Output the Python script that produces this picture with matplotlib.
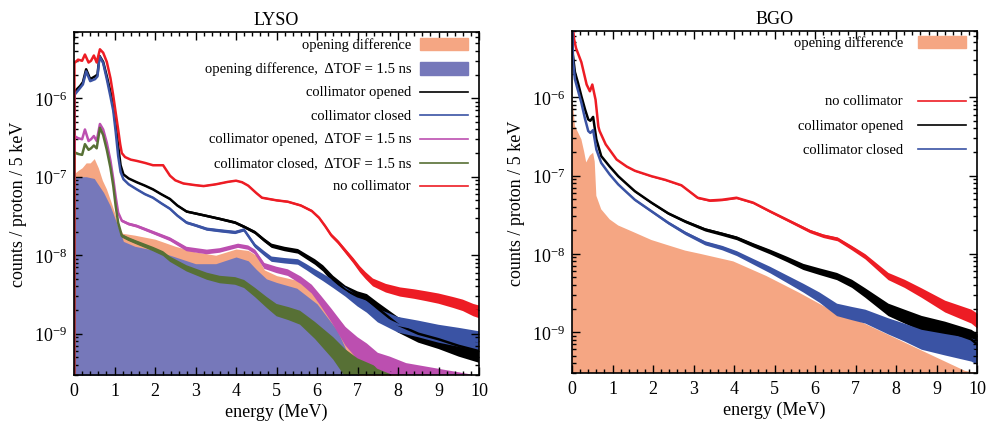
import matplotlib

matplotlib.use("Agg")

import matplotlib.pyplot as plt  # noqa: E402
import numpy as np  # noqa: E402
from matplotlib.ticker import LogLocator, MultipleLocator, NullFormatter  # noqa: E402

SALMON, PURPLE, BLACK, BLUE, MAGENTA, GREEN, RED = (
    "#f5a683", "#7678ba", "#000000", "#3a53a4", "#bc4fb0", "#577035", "#ed1c24",
)
FLOOR = 1e-12

# ---- LYSO (energies in MeV, counts / proton / 5 keV) ----
lyso_none_e = [0, 0.01, 0.1, 0.2, 0.27, 0.36, 0.42, 0.49, 0.56, 0.64, 0.72, 0.81, 0.9, 0.97,
               1.03, 1.09, 1.14, 1.18, 1.26, 1.4, 1.55, 1.75, 1.95, 2.2, 2.37, 2.5, 2.7, 3.0,
               3.2, 3.5, 3.8, 4.0, 4.15, 4.3, 4.5, 4.64, 5.0, 5.28, 5.6, 5.87, 6.05, 6.2, 6.35,
               6.52, 6.69, 6.9, 7.06, 7.2, 7.38, 7.7, 8.05, 8.4, 8.7, 9.0, 9.36, 9.6, 9.86, 10.0]
lyso_none = [FLOOR, 2.8e-6, 3.1e-6, 3.0e-6, 3.6e-6, 2.85e-6, 3.0e-6, 3.5e-6, 2.85e-6, 4.2e-6,
             3.8e-6, 2.9e-6, 1.8e-6, 1.07e-6, 6.5e-7, 4.0e-7, 2.6e-7, 2.0e-7, 1.78e-7, 1.65e-7,
             1.59e-7, 1.5e-7, 1.4e-7, 1.4e-7, 1.03e-7, 9.0e-8, 8.2e-8, 7.8e-8, 7.6e-8, 8.0e-8,
             8.6e-8, 8.9e-8, 8.5e-8, 7.7e-8, 6.2e-8, 5.4e-8, 5.0e-8, 4.8e-8, 4.3e-8, 3.66e-8,
             3.0e-8, 2.35e-8, 1.8e-8, 1.47e-8, 1.15e-8, 8.5e-9, 6.6e-9, 5.5e-9, 4.5e-9, 3.8e-9,
             3.4e-9, 3.2e-9, 3.0e-9, 2.8e-9, 2.5e-9, 2.3e-9, 2.0e-9, 1.9e-9]

lyso_e = [0, 0.01, 0.07, 0.15, 0.22, 0.3, 0.4, 0.52, 0.58, 0.63, 0.72, 0.81, 0.9, 0.97, 1.03,
          1.09, 1.15, 1.22, 1.35, 1.55, 1.75, 1.95, 2.15, 2.37, 2.55, 2.78, 3.0, 3.28, 3.6,
          3.98, 4.2, 4.47, 4.7, 4.88, 5.2, 5.53, 5.75, 5.95, 6.15, 6.4, 6.7, 7.0, 7.23, 7.5,
          8.0, 8.5, 9.0, 9.5, 10.0]
lyso_open = [FLOOR, 1.2e-6, 1.3e-6, 1.43e-6, 1.6e-6, 2.34e-6, 1.75e-6, 1.9e-6, 2.0e-6, 3.46e-6,
             2.9e-6, 1.9e-6, 1.2e-6, 8.0e-7, 4.5e-7, 2.46e-7, 1.4e-7, 1.07e-7, 9.5e-8, 8.5e-8,
             7.7e-8, 6.9e-8, 6.0e-8, 5.2e-8, 4.3e-8, 3.6e-8, 3.4e-8, 3.16e-8, 2.9e-8, 2.6e-8,
             2.3e-8, 1.95e-8, 1.55e-8, 1.32e-8, 1.2e-8, 1.12e-8, 9.5e-9, 8.2e-9, 6.8e-9, 4.9e-9,
             3.6e-9, 3.0e-9, 2.75e-9, 2.1e-9, 1.3e-9, 1.0e-9, 8.5e-10, 7e-10, 6e-10]
lyso_closed = [FLOOR, 1.1e-6, 1.2e-6, 1.35e-6, 1.5e-6, 2.2e-6, 1.65e-6, 1.75e-6, 1.9e-6, 3.4e-6,
               2.8e-6, 1.75e-6, 1.05e-6, 6.9e-7, 3.7e-7, 1.84e-7, 1.15e-7, 9.3e-8, 8.0e-8,
               6.9e-8, 6.0e-8, 5.4e-8, 4.6e-8, 3.9e-8, 3.2e-8, 2.6e-8, 2.4e-8, 2.15e-8, 2.05e-8,
               1.95e-8, 2.1e-8, 1.32e-8, 1.05e-8, 8.9e-9, 8.5e-9, 8.2e-9, 7.0e-9, 6.0e-9, 5.2e-9,
               4.3e-9, 3.4e-9, 2.6e-9, 2.2e-9, 1.7e-9, 1.3e-9, 1.15e-9, 1.0e-9, 9e-10, 8e-10]

lyso_open_tof_e = [0, 0.01, 0.1, 0.2, 0.27, 0.36, 0.42, 0.49, 0.56, 0.64, 0.72, 0.81, 0.9, 0.97,
                   1.03, 1.09, 1.18, 1.35, 1.55, 1.95, 2.37, 2.78, 3.28, 3.6, 4.05, 4.3, 4.47,
                   4.7, 5.0, 5.28, 5.6, 5.87, 6.1, 6.36, 6.7, 7.0, 7.23, 7.5, 7.8, 8.2, 9.0, 10.0]
lyso_open_tof = [FLOOR, 3.3e-7, 3.1e-7, 3.0e-7, 4.0e-7, 2.85e-7, 3.0e-7, 3.3e-7, 2.85e-7, 4.7e-7,
                 4.0e-7, 2.7e-7, 1.6e-7, 9.3e-8, 5.5e-8, 3.5e-8, 2.75e-8, 2.5e-8, 2.35e-8,
                 1.95e-8, 1.6e-8, 1.2e-8, 1.1e-8, 1.15e-8, 1.32e-8, 1.25e-8, 1.1e-8, 7.3e-9,
                 6.5e-9, 6.0e-9, 4.8e-9, 3.7e-9, 2.6e-9, 1.7e-9, 9.3e-10, 6.5e-10, 5.2e-10,
                 3.7e-10, 3.2e-10, 2.5e-10, 2e-10, 1.5e-10]

lyso_closed_tof_e = [0, 0.01, 0.1, 0.2, 0.27, 0.36, 0.42, 0.49, 0.56, 0.64, 0.72, 0.81, 0.9,
                     0.97, 1.03, 1.09, 1.18, 1.35, 1.55, 1.95, 2.2, 2.37, 2.78, 3.28, 3.6, 3.98,
                     4.2, 4.47, 4.76, 5.0, 5.3, 5.58, 5.95, 6.4, 6.7, 7.0, 8.0, 10.0]
lyso_closed_tof = [FLOOR, 2.05e-7, 1.95e-7, 1.9e-7, 2.6e-7, 2.2e-7, 2.3e-7, 2.5e-7, 2.3e-7,
                   4.2e-7, 3.4e-7, 2.2e-7, 1.3e-7, 7.6e-8, 4.2e-8, 2.6e-8, 1.77e-8, 1.6e-8,
                   1.45e-8, 1.2e-8, 1.05e-8, 8.9e-9, 6.8e-9, 5.4e-9, 4.9e-9, 4.7e-9, 4.3e-9,
                   3.35e-9, 2.5e-9, 2.0e-9, 1.8e-9, 1.6e-9, 1.1e-9, 6.5e-10, 4.2e-10, 3.0e-10,
                   1.5e-10, 1e-10]

lyso_diff_e = [0, 0.01, 0.1, 0.2, 0.3, 0.4, 0.5, 0.6, 0.7, 0.8, 0.9, 1.0, 1.1, 1.2, 1.5, 2.0,
               2.5, 3.0, 3.5, 4.0, 4.3, 4.5, 4.7, 5.0, 5.5, 6.0, 6.5, 7.0, 7.5, 8.0, 8.5]
lyso_diff = [FLOOR, 1.1e-7, 1.2e-7, 1.3e-7, 1.5e-7, 1.5e-7, 1.7e-7, 1.3e-7, 9e-8, 7e-8, 5e-8,
             3.5e-8, 2.3e-8, 1.9e-8, 1.8e-8, 1.6e-8, 1.3e-8, 1.1e-8, 1.0e-8, 1.2e-8, 1.15e-8,
             1.0e-8, 6.5e-9, 5.5e-9, 4.8e-9, 3.0e-9, 1.6e-9, 8e-10, 4.5e-10, 3e-10, 2e-10]

lyso_diff_tof_e = [0, 0.01, 0.3, 0.5, 0.56, 0.73, 0.89, 1.05, 1.22, 1.5, 2.0, 2.5, 3.0, 3.5,
                   4.0, 4.3, 4.5, 4.75, 5.0, 5.5, 6.0, 6.5, 6.8, 7.0, 7.3]
lyso_diff_tof = [FLOOR, 1.0e-7, 1.0e-7, 9.5e-8, 8.5e-8, 6.3e-8, 4.3e-8, 2.6e-8, 1.5e-8, 1.3e-8,
                 1.15e-8, 9.5e-9, 7.8e-9, 7.8e-9, 9.5e-9, 8.5e-9, 6.6e-9, 5.0e-9, 4.5e-9,
                 3.8e-9, 2.4e-9, 1.1e-9, 5e-10, 3e-10, 1.5e-10]

# ---- BGO ----
bgo_none_e = [0, 0.02, 0.05, 0.1, 0.23, 0.36, 0.44, 0.5, 0.58, 0.65, 0.68, 0.83, 1.1, 1.35,
              1.55, 1.96, 2.3, 2.7, 3.1, 3.4, 3.7, 4.06, 4.47, 4.88, 5.29, 5.87, 6.2, 6.55,
              6.9, 7.23, 7.8, 8.2, 8.62, 9.2, 9.85, 10.0]
bgo_none = [2e-5, 8e-6, 5.5e-6, 4.2e-6, 2.8e-6, 1.45e-6, 1.19e-6, 1.45e-6, 9.3e-7, 4.2e-7,
            3.7e-7, 2.5e-7, 1.6e-7, 1.3e-7, 1.15e-7, 9.8e-8, 8.8e-8, 7.5e-8, 5.2e-8, 4.8e-8,
            4.9e-8, 5.2e-8, 4.5e-8, 3.5e-8, 2.75e-8, 1.95e-8, 1.7e-8, 1.55e-8, 1.2e-8, 9.3e-9,
            5.2e-9, 4.2e-9, 3.2e-9, 2.15e-9, 1.6e-9, 1.4e-9]

bgo_e = [0, 0.02, 0.07, 0.15, 0.23, 0.32, 0.4, 0.45, 0.52, 0.6, 0.72, 0.93, 1.14, 1.35, 1.55,
         1.96, 2.37, 2.79, 3.28, 3.7, 4.06, 4.47, 4.88, 5.3, 5.7, 6.1, 6.53, 6.9, 7.23, 7.8,
         8.2, 8.62, 9.2, 9.85, 10.0]
bgo_open = [1e-5, 3.5e-6, 2.1e-6, 1.5e-6, 1.03e-6, 7e-7, 5.2e-7, 5.0e-7, 5.6e-7, 2.9e-7,
            1.77e-7, 1.3e-7, 9.8e-8, 7.8e-8, 6.3e-8, 4.5e-8, 3.3e-8, 2.6e-8, 2.05e-8, 1.8e-8,
            1.6e-8, 1.3e-8, 1.07e-8, 8.6e-9, 6.9e-9, 6.0e-9, 5.2e-9, 4.2e-9, 3.2e-9, 1.95e-9,
            1.6e-9, 1.3e-9, 1.07e-9, 8.1e-10, 7e-10]
bgo_closed = [1e-5, 3.0e-6, 1.7e-6, 1.2e-6, 8.5e-7, 5.3e-7, 3.7e-7, 3.5e-7, 3.8e-7, 2.15e-7,
              1.45e-7, 1.03e-7, 7.7e-8, 6.1e-8, 4.9e-8, 3.5e-8, 2.5e-8, 1.85e-8, 1.38e-8,
              1.2e-8, 1.02e-8, 8.0e-9, 6.3e-9, 4.8e-9, 3.7e-9, 2.8e-9, 1.95e-9, 1.75e-9, 1.6e-9,
              1.2e-9, 1.0e-9, 8.1e-10, 7e-10, 6e-10, 5.5e-10]

bgo_diff_e = [0, 0.01, 0.07, 0.23, 0.3, 0.35, 0.44, 0.52, 0.56, 0.6, 0.72, 0.93, 1.14, 1.51,
              1.96, 2.34, 2.79, 3.16, 3.98, 4.8, 5.6, 6.4, 7.2, 8.0, 8.9, 9.7, 10.0]
bgo_diff = [1e-5, 1e-6, 4.3e-7, 2.9e-7, 2e-7, 1.47e-7, 1.8e-7, 1.95e-7, 1.5e-7, 5.5e-8, 3.7e-8,
            2.75e-8, 2.3e-8, 1.9e-8, 1.5e-8, 1.3e-8, 1.1e-8, 1.0e-8, 8.0e-9, 5.2e-9, 3.2e-9,
            1.9e-9, 1.3e-9, 8.3e-10, 5e-10, 3.2e-10, 3e-10]

TOF = "\u0394TOF = 1.5 ns"

plt.rcParams["font.family"] = ["Liberation Serif", "DejaVu Serif"]
plt.rcParams["mathtext.default"] = "regular"


def trace(ax, e, v, color):
    """Spectrum line plus a statistical-scatter ribbon that widens as counts drop."""
    v = np.asarray(v, dtype=float)
    spread = np.minimum(1 + 0.3 * (1e-9 / np.maximum(v, 1e-12)) ** 0.6, 2.0)
    ax.fill_between(e, v / spread, v * spread, color=color, lw=0)
    ax.plot(e, v, color=color, lw=1.8)


def style_axes(ax, title):
    ax.set_yscale("log")
    ax.set_xlim(0, 10)
    ax.set_ylim(3e-10, 7e-6)
    ax.set_title(title, fontsize=13, pad=6)
    ax.set_xlabel("energy (MeV)", fontsize=13, labelpad=3)
    ax.set_ylabel("counts / proton / 5 keV", fontsize=13, labelpad=5)
    ax.xaxis.set_major_locator(MultipleLocator(1))
    ax.xaxis.set_minor_locator(MultipleLocator(0.2))
    ax.yaxis.set_major_locator(LogLocator(base=10))
    ax.yaxis.set_minor_locator(LogLocator(base=10, subs=range(2, 10)))
    ax.yaxis.set_minor_formatter(NullFormatter())
    ax.tick_params(which="both", direction="in", top=True, right=True, labelsize=13, width=1)
    ax.tick_params(which="major", length=6, pad=5)
    ax.tick_params(which="minor", length=3)
    for sp in ax.spines.values():
        sp.set_linewidth(1.2)


def key(ax, row_y, label, color, fill=False, text_x=0.832):
    """gnuplot-style key entry: right-aligned text followed by a sample."""
    ax.text(text_x, row_y, label, transform=ax.transAxes, ha="right", va="center", fontsize=10.5)
    if fill:
        ax.add_patch(plt.Rectangle((0.854, row_y - 0.018), 0.118, 0.036, color=color,
                                   transform=ax.transAxes, clip_on=False, zorder=5))
    else:
        ax.plot([0.854, 0.972], [row_y, row_y], color=color, lw=1.2, transform=ax.transAxes,
                zorder=5)


fig = plt.figure(figsize=(9.88, 4.27), dpi=100)
ax1 = fig.add_axes([0.0749, 0.120, 0.41, 0.803])
ax2 = fig.add_axes([0.579, 0.124, 0.41, 0.801])

# LYSO panel
ax1.fill_between(lyso_diff_e, FLOOR, lyso_diff, color=SALMON, lw=0)
ax1.fill_between(lyso_diff_tof_e, FLOOR, lyso_diff_tof, color=PURPLE, lw=0)
trace(ax1, lyso_e, lyso_open, BLACK)
trace(ax1, lyso_e, lyso_closed, BLUE)
trace(ax1, lyso_open_tof_e, lyso_open_tof, MAGENTA)
trace(ax1, lyso_closed_tof_e, lyso_closed_tof, GREEN)
trace(ax1, lyso_none_e, lyso_none, RED)
style_axes(ax1, "LYSO")

rows = [0.964, 0.893, 0.826, 0.757, 0.688, 0.619, 0.551]
key(ax1, rows[0], "opening difference", SALMON, fill=True)
key(ax1, rows[1], "opening difference,  " + TOF, PURPLE, fill=True)
key(ax1, rows[2], "collimator opened", BLACK)
key(ax1, rows[3], "collimator closed", BLUE)
key(ax1, rows[4], "collimator opened,  " + TOF, MAGENTA)
key(ax1, rows[5], "collimator closed,  " + TOF, GREEN)
key(ax1, rows[6], "no collimator", RED)

# BGO panel
ax2.fill_between(bgo_diff_e, FLOOR, bgo_diff, color=SALMON, lw=0)
trace(ax2, bgo_none_e, bgo_none, RED)
trace(ax2, bgo_e, bgo_open, BLACK)
trace(ax2, bgo_e, bgo_closed, BLUE)
style_axes(ax2, "BGO")

key(ax2, 0.967, "opening difference", SALMON, fill=True, text_x=0.817)
key(ax2, 0.796, "no collimator", RED, text_x=0.817)
key(ax2, 0.724, "collimator opened", BLACK, text_x=0.817)
key(ax2, 0.655, "collimator closed", BLUE, text_x=0.817)

fig.savefig("out.png", dpi=100)
